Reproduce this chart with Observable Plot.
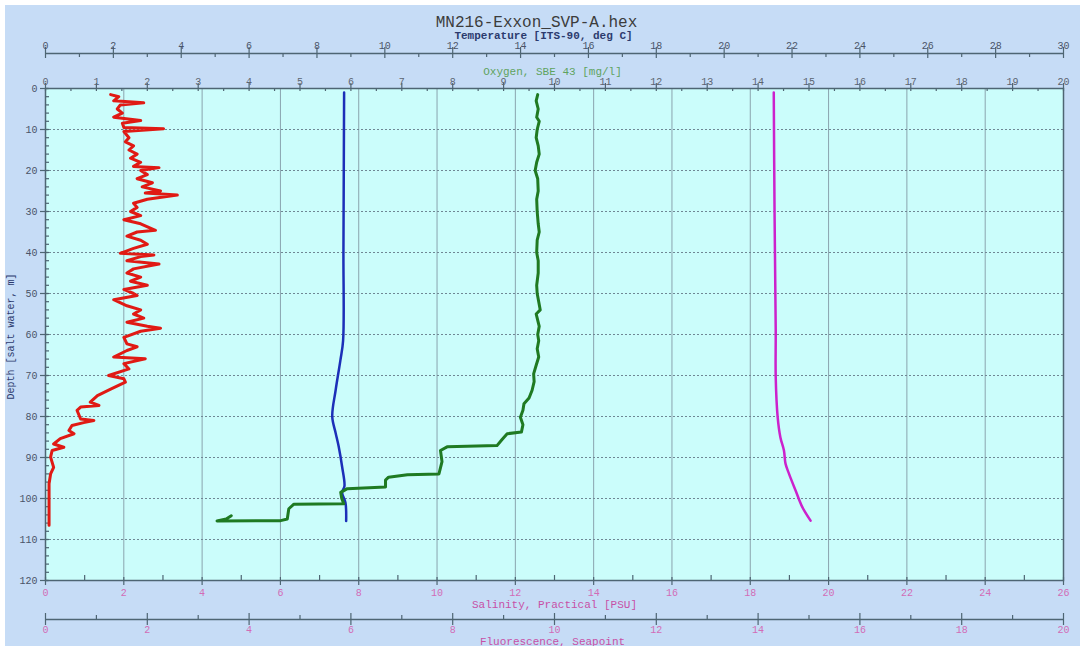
<!DOCTYPE html>
<html>
<head>
<meta charset="utf-8">
<script src="https://cdn.jsdelivr.net/npm/d3@7"></script>
<script src="https://cdn.jsdelivr.net/npm/@observablehq/plot@0.6"></script>
<style>
  html, body { margin: 0; padding: 0; background: #ffffff; }
  #wrap { position: absolute; left: 5px; top: 5px; width: 1075px; height: 641px; background: #c6dcf6; overflow: hidden; }
  svg { font-family: "Liberation Mono", "DejaVu Sans Mono", monospace; }
</style>
</head>
<body>
<div id="wrap"></div>
<script>
// ---- data: [depth (m), value] ----
const fluorescence = [[1.5,1.28],[2,1.44],[3,1.34],[3.5,1.93],[4,1.47],[5,1.41],[6,1.51],[7,1.34],[7.8,1.87],[8.5,1.51],[9.5,1.54],[9.8,2.32],[10.5,1.54],[12,1.64],[13,1.57],[14,1.73],[15,1.64],[16,1.80],[17,1.67],[18,1.87],[19,1.73],[19.3,2.23],[20,1.87],[21,2.00],[22,1.80],[23,2.10],[24,1.90],[25,2.26],[25.5,1.96],[26,2.59],[27,2.00],[28,1.73],[29,1.80],[30,1.67],[31,1.87],[32,1.54],[33,1.87],[34.6,2.16],[35,1.80],[36,1.60],[37,1.87],[38,2.00],[39,1.73],[40.2,1.47],[40.6,2.13],[41,1.87],[42,1.60],[42.8,2.23],[44,1.73],[45,1.60],[46,1.87],[47,1.67],[48,2.00],[49,1.54],[50,1.73],[50.5,1.80],[51.5,1.34],[53,1.60],[54,1.87],[55,1.73],[56,1.93],[57,1.60],[58,2.00],[58.5,2.26],[59.2,1.87],[60.7,1.54],[62.3,1.60],[63,1.80],[63.9,1.60],[65.5,1.34],[65.9,1.96],[67.1,1.54],[68.4,1.64],[70,1.24],[70.8,1.54],[71.6,1.57],[73.3,1.28],[74.9,1.02],[76.5,0.88],[77.3,1.05],[77.7,0.69],[78.5,0.62],[80.6,0.69],[81,0.95],[81.5,0.75],[82.2,0.52],[83.4,0.46],[84.2,0.56],[85.4,0.29],[86.7,0.16],[87.5,0.36],[88.3,0.13],[89.9,0.10],[92.4,0.16],[94,0.10],[96.4,0.07],[99.7,0.07],[103,0.07],[106.5,0.07]];

const temperature = [[1,8.80],[20,8.79],[40,8.78],[61.5,8.77],[66.3,8.69],[73.6,8.55],[80,8.45],[84,8.55],[87.3,8.64],[92.2,8.74],[97,8.81],[98.5,8.74],[101,8.84],[105.5,8.86]];

const oxygen = [[1.5,9.67],[3,9.64],[5,9.68],[7,9.65],[8,9.70],[10,9.66],[12,9.64],[14,9.68],[16,9.70],[18,9.65],[20,9.62],[22,9.67],[25,9.68],[27,9.65],[30,9.66],[33,9.68],[35,9.70],[37,9.66],[40,9.65],[42,9.68],[45,9.68],[48,9.65],[50,9.66],[52,9.69],[54,9.72],[55,9.64],[56,9.66],[58,9.70],[60,9.67],[61.5,9.69],[63.5,9.66],[65.5,9.69],[67.5,9.64],[69.6,9.59],[71.5,9.60],[73.6,9.56],[75.5,9.50],[76.9,9.40],[78.5,9.38],[80.2,9.33],[82,9.38],[83.8,9.35],[84.2,9.07],[85.6,8.97],[87.1,8.87],[87.4,7.89],[88.3,7.76],[91,7.79],[94,7.73],[94.2,7.11],[94.8,6.74],[95.5,6.68],[97.2,6.68],[97.6,5.93],[98.5,5.80],[100,5.82],[101.3,5.86],[101.4,4.88],[102.5,4.78],[105,4.75],[105.4,4.62],[105.5,3.37],[105,3.55],[104.2,3.65]];

const salinity = [[1,18.60],[30,18.62],[59,18.65],[70.4,18.65],[80.2,18.70],[85.1,18.77],[88.3,18.86],[91.5,18.90],[94,18.99],[98.1,19.16],[102.1,19.33],[105.4,19.54]];

// ---- axis ranges & ticks ----
const tempMax = 30, oxyMax = 20, salMax = 26, fluMax = 20, depthMax = 120;
const tempTicks = d3.range(0, 31, 2), tempMinor = d3.range(1, 30, 2);
const oxyTicks = d3.range(0, 21, 1), oxyMinor = d3.range(0.5, 20, 1);
const salTicks = d3.range(0, 27, 2), salMinor = d3.range(1, 26, 2);
const fluTicks = d3.range(0, 21, 2), fluMinor = d3.range(1, 20, 2);
const depthTicks = d3.range(0, 121, 10), depthMinor = d3.range(0, 121, 2);

const W = 1075, Hh = 641;
const mL = 40, mR = 17, mT = 83, mB = 66;
const PW = W - mL - mR, PH = Hh - mT - mB;

const axisCol = "#4e6573";
const tickFont = 10;

function topTicks(vals, max, a, b) {
  return Plot.tickX(vals, {x: d => d / max, insetTop: a, insetBottom: PH - b, stroke: axisCol, strokeWidth: 1.2});
}

const chart = Plot.plot({
  width: W, height: Hh,
  marginLeft: mL, marginRight: mR, marginTop: mT, marginBottom: mB,
  style: {background: "transparent", overflow: "visible"},
  x: {domain: [0, 1], axis: null},
  y: {domain: [0, depthMax], reverse: true, axis: null},
  marks: [
    Plot.frame({fill: "#cbfdfb", stroke: null}),
    // grid
    Plot.ruleX(salTicks.slice(1, -1), {x: d => d / salMax, stroke: "#8aa4ae", strokeWidth: 1}),
    Plot.ruleY(depthTicks.slice(1, -1), {y: d => d, stroke: "#6f8794", strokeWidth: 1.2, strokeDasharray: "2,2"}),
    // frame
    Plot.frame({stroke: axisCol, strokeWidth: 1.5}),
    // temperature axis (top outer)
    Plot.ruleY([0], {dy: -35, stroke: axisCol, strokeWidth: 1.5}),
    topTicks(tempTicks, tempMax, -41, -30),
    topTicks(tempMinor, tempMax, -35, -31),
    Plot.text(tempTicks, {x: d => d / tempMax, text: d => String(d), frameAnchor: "top", dy: -47, fill: "#4a5468", fontSize: tickFont}),
    Plot.text(["Temperature [ITS-90, deg C]"], {frameAnchor: "top", dx: -11, dy: -57, fill: "#2c3b6e", fontSize: 11, fontWeight: "bold"}),
    Plot.text(["MN216-Exxon_SVP-A.hex"], {frameAnchor: "top", dx: -18, dy: -73, fill: "#3c3c3c", fontSize: 16}),
    // oxygen axis (top inner)
    topTicks(oxyTicks, oxyMax, -5, 3),
    topTicks(oxyMinor, oxyMax, 0, 3),
    Plot.text(oxyTicks, {x: d => d / oxyMax, text: d => String(d), frameAnchor: "top", dy: -11, fill: "#5c6470", fontSize: tickFont}),
    Plot.text(["Oxygen, SBE 43 [mg/l]"], {frameAnchor: "top", dx: -2, dy: -21, fill: "#5fa35f", fontSize: 11}),
    // salinity axis (bottom inner)
    topTicks(salTicks, salMax, PH - 3, PH + 5),
    topTicks(salMinor, salMax, PH - 5, PH),
    Plot.text(salTicks, {x: d => d / salMax, text: d => String(d), frameAnchor: "bottom", dy: 15, fill: "#d26cb6", fontSize: tickFont}),
    Plot.text(["Salinity, Practical [PSU]"], {frameAnchor: "bottom", dx: 0, dy: 27, fill: "#c650a6", fontSize: 11}),
    // fluorescence axis (bottom outer)
    Plot.ruleY([depthMax], {dy: 39, stroke: axisCol, strokeWidth: 1.5}),
    topTicks(fluTicks, fluMax, PH + 33, PH + 45),
    topTicks(fluMinor, fluMax, PH + 35, PH + 39),
    Plot.text(fluTicks, {x: d => d / fluMax, text: d => String(d), frameAnchor: "bottom", dy: 52, fill: "#d26cb6", fontSize: tickFont}),
    Plot.text(["Fluorescence, Seapoint"], {frameAnchor: "bottom", dx: -2, dy: 64, fill: "#c650a6", fontSize: 11}),
    // depth axis
    Plot.tickY(depthTicks, {y: d => d, insetLeft: -5, insetRight: PW - 3, stroke: axisCol, strokeWidth: 1.2}),
    Plot.tickY(depthMinor, {y: d => d, insetLeft: 0, insetRight: PW - 4, stroke: axisCol, strokeWidth: 1.2}),
    Plot.text(depthTicks, {y: d => d, text: d => String(d), frameAnchor: "left", dx: -8, textAnchor: "end", fill: "#4a5468", fontSize: tickFont}),
    Plot.text(["Depth [salt water, m]"], {frameAnchor: "left", dx: -35, dy: 2, rotate: -90, textAnchor: "middle", fill: "#2c3b6e", fontSize: 10}),
    // data lines
    Plot.line(fluorescence, {x: d => d[1] / fluMax, y: d => d[0], stroke: "#e01a14", strokeWidth: 3, strokeLinejoin: "round"}),
    Plot.line(temperature, {x: d => d[1] / tempMax, y: d => d[0], stroke: "#1c2fb8", strokeWidth: 2.5, curve: "catmull-rom"}),
    Plot.line(oxygen, {x: d => d[1] / oxyMax, y: d => d[0], stroke: "#1f7a22", strokeWidth: 3, strokeLinejoin: "round"}),
    Plot.line(salinity, {x: d => d[1] / salMax, y: d => d[0], stroke: "#cc22cc", strokeWidth: 2.5, curve: "catmull-rom"})
  ]
});
document.getElementById("wrap").appendChild(chart);
</script>
</body>
</html>
